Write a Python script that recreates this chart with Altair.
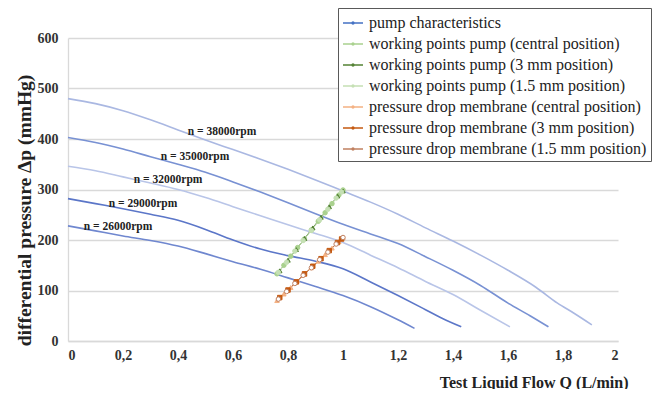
import altair as alt
import pandas as pd

SERIES = [
    "pump characteristics",
    "working points pump (central position)",
    "working points pump (3 mm position)",
    "working points pump (1.5 mm position)",
    "pressure drop membrane (central position)",
    "pressure drop membrane (3 mm position)",
    "pressure drop membrane (1.5 mm position)",
]
COLORS = ["#4472c4", "#a9d18e", "#548235", "#c5e0b4", "#f4b183", "#c55a11", "#c08060"]

rpm_labels = ["26000", "29000", "32000", "35000", "38000"]
rpm_colors = ["#6f87cf", "#5b76c8", "#b9c5e8", "#7891d3", "#aab8e2"]

q_26000 = [0, 0.1, 0.2, 0.3, 0.4, 0.5, 0.6, 0.7, 0.8, 0.9, 1.0, 1.1, 1.2, 1.26]
p_26000 = [228, 218, 208, 199, 188, 173, 157, 142, 125, 108, 90, 68, 42, 25]
q_29000 = [0, 0.1, 0.2, 0.3, 0.4, 0.5, 0.6, 0.7, 0.8, 0.9, 1.0, 1.1, 1.2, 1.3, 1.36, 1.43]
p_29000 = [282, 272, 262, 251, 239, 221, 200, 182, 169, 158, 143, 117, 90, 62, 45, 28]
q_32000 = [0, 0.1, 0.2, 0.3, 0.4, 0.5, 0.6, 0.7, 0.8, 0.9, 1.0, 1.1, 1.2, 1.3, 1.4, 1.5, 1.607]
p_32000 = [346, 337, 325, 313, 300, 284, 266, 248, 230, 213, 195, 170, 145, 118, 92, 61, 28]
q_35000 = [0, 0.1, 0.2, 0.3, 0.4, 0.5, 0.6, 0.7, 0.8, 0.9, 1.0, 1.1, 1.2, 1.3, 1.4, 1.5, 1.6, 1.68, 1.747]
p_35000 = [403, 393, 380, 365, 350, 334, 315, 295, 274, 252, 231, 212, 193, 167, 140, 110, 75, 50, 28]
q_38000 = [0, 0.1, 0.2, 0.3, 0.4, 0.5, 0.6, 0.7, 0.8, 0.9, 1.0, 1.1, 1.2, 1.3, 1.4, 1.5, 1.6, 1.7, 1.78, 1.84, 1.905]
p_38000 = [480, 470, 456, 438, 418, 398, 379, 360, 340, 319, 297, 275, 251, 224, 198, 170, 140, 107, 75, 55, 32]

wp_central_q = [0.76, 0.785, 0.81, 0.835, 0.86, 0.885, 0.91, 0.935, 0.96, 0.985, 1.0]
wp_central_p = [133, 150, 168, 185, 202, 220, 237, 254, 272, 289, 299]
wp_3mm_q = [0.77, 0.80, 0.83, 0.86, 0.89, 0.92, 0.95, 0.98, 1.0]
wp_3mm_p = [139, 160, 181, 203, 224, 245, 266, 287, 297]
wp_15mm_q = [0.765, 0.795, 0.825, 0.855, 0.885, 0.915, 0.945, 0.975, 0.995]
wp_15mm_p = [136, 156, 178, 199, 219, 240, 261, 283, 295]

pd_central_q = [0.76, 0.785, 0.81, 0.835, 0.86, 0.885, 0.91, 0.935, 0.96, 0.985, 1.0]
pd_central_p = [80, 93, 106, 119, 132, 145, 158, 171, 184, 197, 205]
pd_3mm_q = [0.77, 0.80, 0.83, 0.86, 0.89, 0.92, 0.95, 0.98, 0.995]
pd_3mm_p = [86, 101, 117, 133, 148, 163, 179, 195, 202]
pd_15mm_q = [0.765, 0.795, 0.825, 0.855, 0.885, 0.915, 0.945, 0.975, 1.0]
pd_15mm_p = [83, 98, 114, 130, 145, 161, 176, 192, 205]

ann_q = [0.56, 0.462, 0.364, 0.273, 0.182]
ann_p = [414, 365, 319, 271, 226]
ann_text = ["n = 38000rpm", "n = 35000rpm", "n = 32000rpm", "n = 29000rpm", "n = 26000rpm"]

pump_q = [q_26000, q_29000, q_32000, q_35000, q_38000]
pump_p = [p_26000, p_29000, p_32000, p_35000, p_38000]
pt_q = [wp_central_q, wp_3mm_q, wp_15mm_q, pd_central_q, pd_3mm_q, pd_15mm_q]
pt_p = [wp_central_p, wp_3mm_p, wp_15mm_p, pd_central_p, pd_3mm_p, pd_15mm_p]

FONT = "'Liberation Serif', 'Times New Roman', Times, serif"

rows = []
for rpm, qs, ps in zip(rpm_labels, pump_q, pump_p):
    for q, p in zip(qs, ps):
        rows.append({"Q": q, "P": p, "series": SERIES[0], "curve": rpm})
for name, qs, ps in zip(SERIES[1:], pt_q, pt_p):
    for q, p in zip(qs, ps):
        rows.append({"Q": q, "P": p, "series": name, "curve": name})
df = pd.DataFrame(rows)
ann_df = pd.DataFrame({"Q": ann_q, "P": ann_p, "label": ann_text})

x = alt.X(
    "Q:Q",
    scale=alt.Scale(domain=[0, 2], nice=False),
    axis=alt.Axis(
        values=[0, 0.2, 0.4, 0.6, 0.8, 1, 1.2, 1.4, 1.6, 1.8, 2],
        labelExpr="replace(format(datum.value, '.1~f'), '.', ',')",
        grid=False, ticks=False, domainColor="#d9d9d9", domainWidth=1.3,
        labelPadding=7, titleX=560, titleY=41, titleAlign="right",
        titleBaseline="middle", titleFontSize=16,
    ),
    title="Test Liquid Flow Q (L/min)",
)
y = alt.Y(
    "P:Q",
    scale=alt.Scale(domain=[0, 600], nice=False),
    axis=alt.Axis(
        values=[0, 100, 200, 300, 400, 500, 600],
        grid=True, gridColor="#d9d9d9", gridWidth=1.3, ticks=False,
        domainColor="#d9d9d9", domainWidth=1.3, labelPadding=10,
        titleX=-44, titleY=172, titleAlign="center", titleBaseline="middle",
        titleFontSize=19.5,
    ),
    title="differential pressure Δp (mmHg)",
)
color = alt.Color(
    "series:N",
    scale=alt.Scale(domain=SERIES, range=COLORS),
    legend=alt.Legend(title=None),
)

base = alt.Chart(df)

pump_layers = []
for rpm, col in zip(rpm_labels, rpm_colors):
    pump_layers.append(
        base.transform_filter(alt.datum.curve == rpm).mark_line(
            strokeWidth=1.6, interpolate="monotone", stroke=col
        ).encode(x=x, y=y, color=color)
    )

others = base.transform_filter(alt.datum.series != SERIES[0]).mark_line(
    strokeWidth=1
).encode(x=x, y=y, color=color, detail="curve:N")

marker_styles = [
    (SERIES[1], "circle", "#a9d18e", "#a9d18e"),
    (SERIES[2], "triangle-up", "#548235", "#548235"),
    (SERIES[3], "circle", "#c5e0b4", "#c5e0b4"),
    (SERIES[4], "triangle-up", "#f4b183", "#f4b183"),
    (SERIES[5], "square", "#c55a11", "#c55a11"),
    (SERIES[6], "circle", "#ffffff", "#c08060"),
]
markers = []
for name, shape, fill, stroke in marker_styles:
    markers.append(
        base.transform_filter(alt.datum.series == name).mark_point(
            shape=shape, filled=True, size=20, fill=fill, stroke=stroke,
            strokeWidth=1, opacity=1,
        ).encode(x=alt.X("Q:Q"), y=alt.Y("P:Q"))
    )

labels = alt.Chart(ann_df).mark_text(
    font=FONT, fontWeight="bold", fontSize=11.5, color="#222222"
).encode(x=alt.X("Q:Q"), y=alt.Y("P:Q"), text="label:N")

chart = alt.layer(*pump_layers, others, *markers, labels).properties(
    width=550,
    height=303,
    autosize=alt.AutoSizeParams(type="none"),
    padding={"left": 60, "top": 30, "right": 36, "bottom": 48},
).configure_view(strokeWidth=0).configure_axis(
    labelFont=FONT, labelFontWeight="bold", labelFontSize=14,
    labelColor="#333333", titleFont=FONT, titleFontWeight="bold",
    titleColor="#222222",
).configure_legend(
    orient="none", legendX=270, legendY=-30,
    strokeColor="#595959", fillColor="#ffffff", padding=4,
    labelFont=FONT, labelFontSize=16, labelColor="#222222",
    labelLimit=400, rowPadding=2, symbolSize=400, symbolStrokeWidth=1.3,
    symbolType="M-1,0H1M-0.1,0a0.1,0.1 0 1,0 0.2,0a0.1,0.1 0 1,0 -0.2,0",
    labelOffset=5,
)

chart.save("out.html", embed_options={"renderer": "svg", "actions": False})
